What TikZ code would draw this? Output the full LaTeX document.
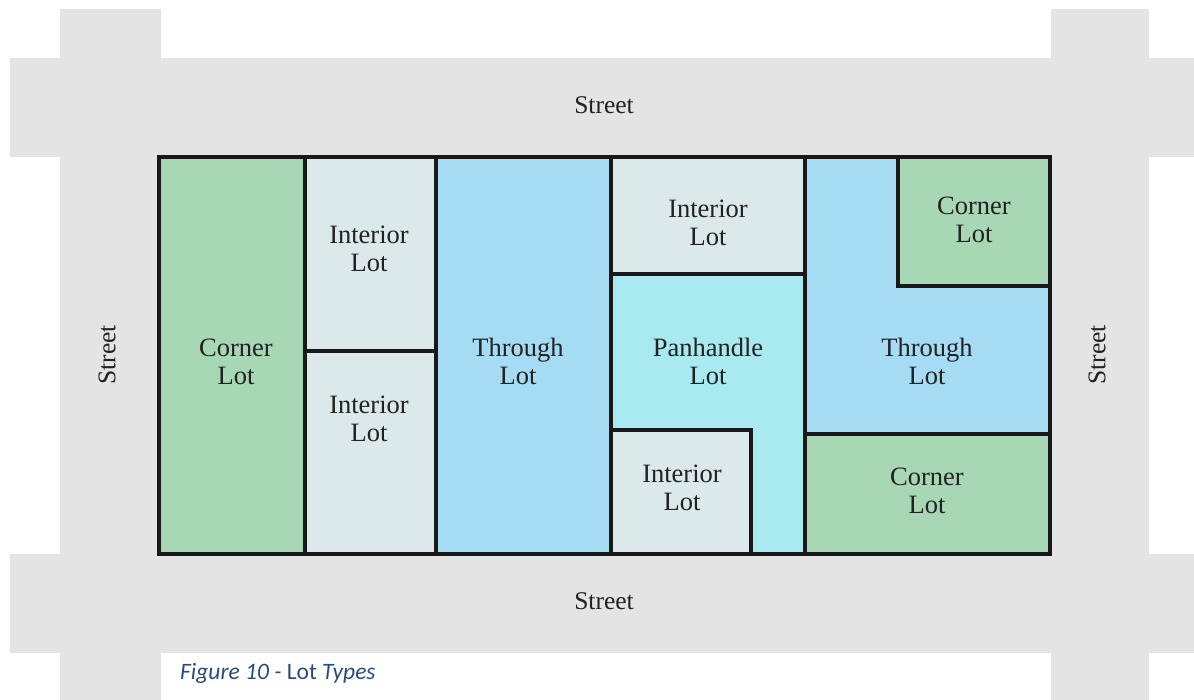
\documentclass[tikz,border=0pt]{standalone}
\usepackage{fontspec}
\setmainfont{Liberation Serif}
\newfontfamily\capfont{Carlito}
\definecolor{streetc}{HTML}{E4E4E4}
\definecolor{cornerc}{HTML}{A8D7B5}
\definecolor{interc}{HTML}{DCE9EA}
\definecolor{throughc}{HTML}{A5DCF3}
\definecolor{panc}{HTML}{A8EAF0}
\definecolor{txtc}{HTML}{222222}
\definecolor{capc}{HTML}{2A4C7D}
\tikzset{
  lot/.style={draw=black!90, line width=3.3pt, line join=miter},
  lbl/.style={text=txtc, font=\fontsize{26.5}{28}\selectfont, align=center, inner sep=0pt},
  streetlbl/.style={text=txtc, font=\fontsize{25.5}{28}\selectfont, inner sep=0pt}
}
\begin{document}
\begin{tikzpicture}[x=1pt,y=-1pt]
\useasboundingbox (0,0) rectangle (1194,700);
\fill[white] (0,0) rectangle (1194,700);
% streets
\fill[streetc] (10,58) rectangle (1194,157);
\fill[streetc] (10,554) rectangle (1194,653);
\fill[streetc] (60,9) rectangle (161,700);
\fill[streetc] (1051,9) rectangle (1149,700);
% lots
\filldraw[lot, fill=cornerc] (159,157) rectangle (305,554);
\filldraw[lot, fill=interc] (305,157) rectangle (436,351);
\filldraw[lot, fill=interc] (305,351) rectangle (436,554);
\filldraw[lot, fill=throughc] (436,157) rectangle (611,554);
\filldraw[lot, fill=interc] (611,157) rectangle (805,274);
\filldraw[lot, fill=panc] (611,274) -- (805,274) -- (805,554) -- (751,554) -- (751,430) -- (611,430) -- cycle;
\filldraw[lot, fill=interc] (611,430) rectangle (751,554);
\filldraw[lot, fill=throughc] (805,157) -- (898,157) -- (898,286) -- (1050,286) -- (1050,434) -- (805,434) -- cycle;
\filldraw[lot, fill=cornerc] (898,157) rectangle (1050,286);
\filldraw[lot, fill=cornerc] (805,434) rectangle (1050,554);
\draw[lot] (159,157) rectangle (1050,554);
% labels
\node[lbl] (c1) at (236,362) {Corner\\Lot};
\node[lbl] (i1) at (369,249) {Interior\\Lot};
\node[lbl] (i2) at (369,419) {Interior\\Lot};
\node[lbl] (t1) at (518,361) {Through\\Lot};
\node[lbl] (i3) at (708,223) {Interior\\Lot};
\node[lbl] (p1) at (708,361) {Panhandle\\Lot};
\node[lbl] (i4) at (682,488) {Interior\\Lot};
\node[lbl] (t2) at (927,361) {Through\\Lot};
\node[lbl] (c2) at (974,220) {Corner\\Lot};
\node[lbl] (c3) at (927,491) {Corner\\Lot};
\node[streetlbl] (s1) at (604,105) {Street};
\node[streetlbl] (s2) at (604,601) {Street};
\node[streetlbl, rotate=90] (s3) at (107,355) {Street};
\node[streetlbl, rotate=90] (s4) at (1097,355) {Street};
\node[anchor=base west, inner sep=0pt, text=capc, font=\capfont\fontsize{23.5}{26}\selectfont] (cap) at (180,679) {\itshape Figure 10 - \upshape Lot \itshape Types};
\end{tikzpicture}
\end{document}
